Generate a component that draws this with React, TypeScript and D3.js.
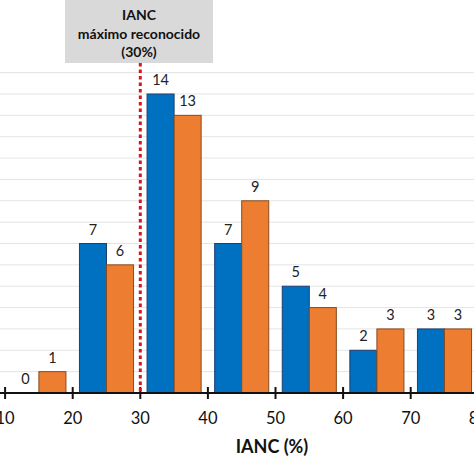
import React from "react";
import * as d3 from "d3";

const categories = ["10-20", "20-30", "30-40", "40-50", "50-60", "60-70", "70-80"];
const binStarts = [10, 20, 30, 40, 50, 60, 70];
const seriesBlue = [0, 7, 14, 7, 5, 2, 3];
const seriesOrange = [1, 6, 13, 9, 4, 3, 3];
const xTicks = [10, 20, 30, 40, 50, 60, 70, 80];
const gridValues = [1, 2, 3, 4, 5, 6, 7, 8, 9, 10, 11, 12, 13, 14, 15];
const thresholdValue = 30;
const boxLines = ["IANC", "máximo reconocido", "(30%)"];
const axisTitle = "IANC (%)";

const W = 474;
const H = 474;
const FONT = "Lato, 'Open Sans', sans-serif";

export default function App() {
  const x = d3.scaleLinear().domain([20, 70]).range([72.7, 410.7]);
  const y = d3.scaleLinear().domain([0, 14]).range([393, 94]);
  const groupW = x(30) - x(20);
  const inner = d3.scaleBand().domain(["blue", "orange"]).range([0, groupW]).paddingOuter(0.25).paddingInner(0);

  const series = [
    { key: "blue", values: seriesBlue, fill: "#0070c0", stroke: "#1f3f6e" },
    { key: "orange", values: seriesOrange, fill: "#ed7d31", stroke: "#8a4a1c" },
  ];

  return (
    <svg
      width={W}
      height={H}
      style={{ position: "absolute", left: 0, top: 0, background: "#fff" }}
    >
      {gridValues.map((v) => (
        <line key={v} x1={0} x2={W} y1={y(v)} y2={y(v)} stroke="#e4e4e4" strokeWidth={1} />
      ))}
      {series.map((s) =>
        categories.map((c, i) => {
          const v = s.values[i];
          const bx = x(binStarts[i]) + (inner(s.key) as number);
          const bw = inner.bandwidth();
          return (
            <g key={s.key + c}>
              {v > 0 && (
                <rect
                  x={bx}
                  y={y(v)}
                  width={bw}
                  height={y(0) - y(v)}
                  fill={s.fill}
                  stroke={s.stroke}
                  strokeWidth={1}
                />
              )}
              <text
                x={bx + bw / 2}
                y={y(v) - 9}
                textAnchor="middle"
                fontFamily={FONT}
                fontSize={14.5}
                fill="#222"
              >
                {v}
              </text>
            </g>
          );
        })
      )}
      <line x1={0} x2={W} y1={y(0)} y2={y(0)} stroke="#111" strokeWidth={2} />
      {xTicks.map((t) => (
        <g key={t}>
          <line x1={x(t)} x2={x(t)} y1={y(0) - 6} y2={y(0) + 6} stroke="#111" strokeWidth={2} />
          <text
            x={x(t)}
            y={424}
            textAnchor="middle"
            fontFamily={FONT}
            fontSize={16.5}
            fill="#111"
          >
            {t}
          </text>
        </g>
      ))}
      <text
        x={272}
        y={453}
        textAnchor="middle"
        fontFamily={FONT}
        fontWeight="bold"
        fontSize={18}
        fill="#111"
      >
        {axisTitle}
      </text>
      <line
        x1={x(thresholdValue)}
        x2={x(thresholdValue)}
        y1={63}
        y2={y(0)}
        stroke="#d8141e"
        strokeWidth={3}
        strokeDasharray="3.5 3"
      />
      <rect x={65} y={-2} width={148} height={65} fill="#d9d9d9" />
      {boxLines.map((l, i) => (
        <text
          key={l}
          x={139}
          y={20 + i * 18.5}
          textAnchor="middle"
          fontFamily={FONT}
          fontWeight="bold"
          fontSize={14}
          fill="#111"
        >
          {l}
        </text>
      ))}
    </svg>
  );
}
